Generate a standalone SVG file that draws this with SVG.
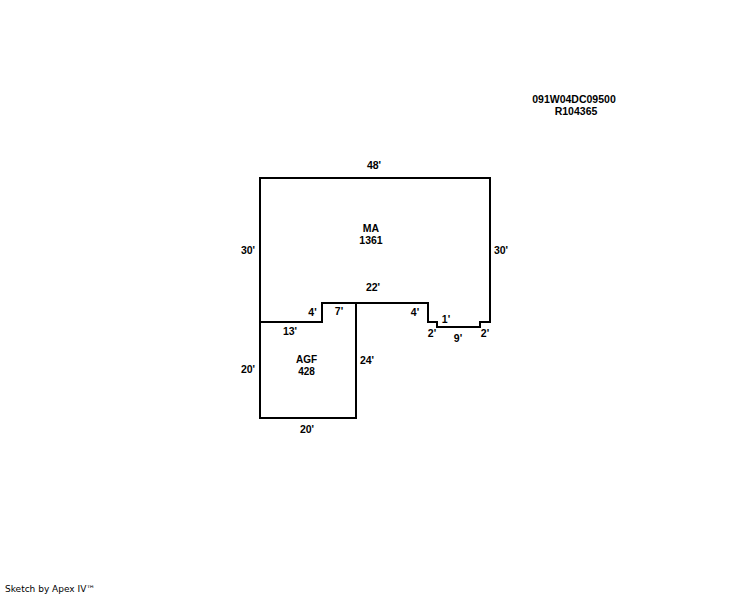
<svg xmlns="http://www.w3.org/2000/svg" width="744" height="595" viewBox="0 0 744 595">
<style>
.l{fill:none;stroke:#000;stroke-width:2;shape-rendering:crispEdges}
text{font-family:"Liberation Sans",Arial,sans-serif;font-size:10.5px;font-weight:bold;fill:#000;text-anchor:middle}
.t{font-size:10px}
.s{font-family:"DejaVu Sans",sans-serif;font-size:9px;font-weight:normal;text-anchor:start}
</style>
<rect width="744" height="595" fill="#fff"/>
<g id="connectors">
<path class="l" d="M260 178H490V322H480V327H437V322H428V303H322V322H260Z"/>
<path class="l" d="M260 322V418H356V303"/>
</g>
<g id="node-MA"><text x="371" y="232">MA</text><text x="371" y="244">1361</text></g>
<g id="node-AGF"><text class="t" x="306.500" y="363.400">AGF</text><text class="t" x="306.500" y="374.600">428</text></g>
<g id="labels">
<text x="374" y="169">48'</text><text x="248" y="254">30'</text><text x="501" y="254">30'</text>
<text x="373" y="291">22'</text><text x="312.500" y="316">4'</text><text x="339" y="315">7'</text><text x="415" y="316">4'</text>
<text x="446" y="323">1'</text><text x="432" y="337">2'</text><text x="458" y="342">9'</text><text x="485" y="337">2'</text>
<text x="290" y="335">13'</text><text x="248" y="373">20'</text><text x="367" y="364">24'</text><text x="307" y="433">20'</text>
</g>
<g id="ref"><text x="574" y="103">091W04DC09500</text><text x="576" y="115">R104365</text></g>
<text class="s" x="5" y="592">Sketch by Apex IV™</text>
</svg>
